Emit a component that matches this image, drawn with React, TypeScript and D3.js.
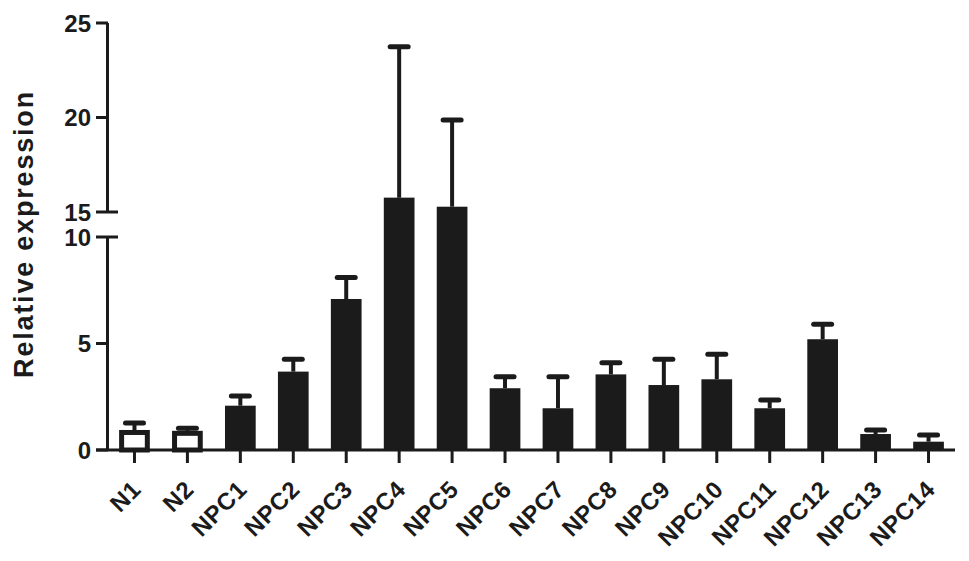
import React from "react";
import * as d3 from "d3";

const WIDTH = 969;
const HEIGHT = 561;

const categories = ["N1", "N2", "NPC1", "NPC2", "NPC3", "NPC4", "NPC5", "NPC6", "NPC7", "NPC8", "NPC9", "NPC10", "NPC11", "NPC12", "NPC13", "NPC14"];
const means = [0.94, 0.9, 2.08, 3.68, 7.09, 15.76, 15.28, 2.9, 1.96, 3.55, 3.05, 3.32, 1.96, 5.2, 0.75, 0.39];
const errors = [0.33, 0.12, 0.45, 0.58, 1.01, 7.99, 4.59, 0.54, 1.48, 0.55, 1.21, 1.17, 0.39, 0.7, 0.19, 0.31];
const controls = ["N1", "N2"];

const lowerTicks = [0, 5, 10];
const upperTicks = [15, 20, 25];

const INK = "#1b1b1b";
const FONT = "'Liberation Sans', Arial, sans-serif";

export default function App() {
  // broken axis: 0-10 on the lower segment, 15-25 on the upper one
  const y = d3.scaleLinear().domain([0, 10, 15, 25]).range([450, 237, 212, 23]);
  const x = d3
    .scaleBand<string>()
    .domain(categories)
    .range([108, 955])
    .paddingInner(0.42)
    .paddingOuter(0.21);

  const bw = x.bandwidth();
  const sw = 5;

  const bars = categories.map((c, i) => {
    const x0 = x(c) || 0;
    const cx = x0 + bw / 2;
    const top = y(means[i]);
    const cap = y(means[i] + errors[i]);
    const open = controls.includes(c);
    return (
      <g key={c}>
        <line x1={cx} x2={cx} y1={top} y2={cap} stroke={INK} strokeWidth={4} />
        <line x1={cx - 9} x2={cx + 9} y1={cap} y2={cap} stroke={INK} strokeWidth={5} strokeLinecap="round" />
        {open ? (
          <rect
            x={x0 + sw / 2}
            y={top + sw / 2}
            width={bw - sw}
            height={y(0) - top - sw / 2}
            fill="#fff"
            stroke={INK}
            strokeWidth={sw}
          />
        ) : (
          <rect x={x0} y={top} width={bw} height={y(0) - top} fill={INK} />
        )}
      </g>
    );
  });

  return (
    <svg width={WIDTH} height={HEIGHT} style={{ position: "absolute", left: 0, top: 0, background: "#fff" }}>
      {bars}

      {/* y axis, two segments */}
      <g stroke={INK} strokeWidth={3}>
        <line x1={107.5} x2={107.5} y1={y(25)} y2={y(15)} />
        <line x1={107.5} x2={107.5} y1={y(10)} y2={y(0)} />
        {[...lowerTicks, ...upperTicks].map((t) => (
          <line key={t} x1={96} x2={t === 10 || t === 15 ? 118 : 108} y1={y(t)} y2={y(t)} />
        ))}
        <line x1={96} x2={955} y1={450} y2={450} />
        {categories.map((c) => {
          const cx = (x(c) || 0) + bw / 2;
          return <line key={c} x1={cx} x2={cx} y1={450} y2={463} />;
        })}
      </g>

      <g fontFamily={FONT} fontWeight="bold" fontSize={24} fill={INK} textAnchor="end">
        {[...lowerTicks, ...upperTicks].map((t) => (
          <text key={t} x={91} y={y(t)} dy="0.36em">
            {t}
          </text>
        ))}
      </g>

      <g fontFamily={FONT} fontWeight="bold" fontSize={24} letterSpacing={0.6} fill={INK} textAnchor="end">
        {categories.map((c) => {
          const cx = (x(c) || 0) + bw / 2;
          return (
            <text key={c} transform={`translate(${cx + 8},491) rotate(-45)`}>
              {c}
            </text>
          );
        })}
      </g>

      <text
        transform="translate(33,234) rotate(-90)"
        textAnchor="middle"
        fontFamily={FONT}
        fontWeight="bold"
        fontSize={27}
        letterSpacing={1.8}
        fill={INK}
      >
        Relative expression
      </text>
    </svg>
  );
}
